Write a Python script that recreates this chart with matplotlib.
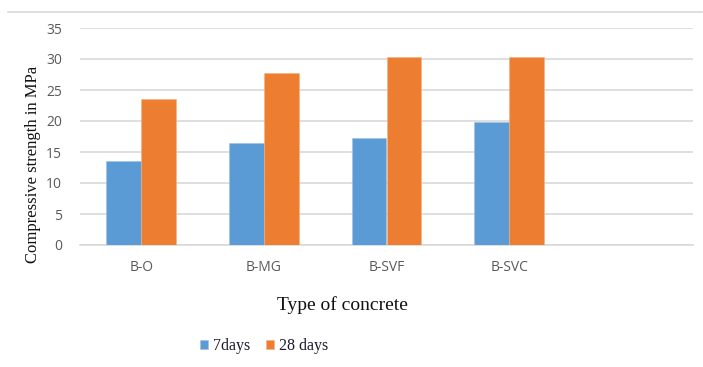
import matplotlib
matplotlib.use("Agg")
import matplotlib.pyplot as plt
import numpy as np
from matplotlib.lines import Line2D

categories = ["B-O", "B-MG", "B-SVF", "B-SVC", ""]
days7 = [13.6, 16.5, 17.3, 19.8, np.nan]
days28 = [23.5, 27.8, 30.3, 30.4, np.nan]
series_names = ["7days", "28 days"]
y_ticks = [0, 5, 10, 15, 20, 25, 30, 35]

blue = "#5B9BD5"
orange = "#ED7D31"
grid_col = "#d9d9d9"
tick_col = "#595959"

fig = plt.figure(figsize=(7.03, 3.67), dpi=100)
ax = fig.add_axes([80 / 703, 1 - 245 / 367, 613 / 703, 217 / 367])

x = np.arange(len(categories))
w = 0.285
b1 = ax.bar(x - w / 2, days7, w, color=blue, edgecolor="#9cc3e6", linewidth=0.4,
            label=series_names[0], zorder=3)
b2 = ax.bar(x + w / 2, days28, w, color=orange, edgecolor="#f4b183", linewidth=0.4,
            label=series_names[1], zorder=3)

ax.set_xlim(-0.5, len(categories) - 0.5)
ax.set_ylim(0, 35)
ax.set_yticks(y_ticks)
ax.set_xticks(x)
ax.set_xticklabels(categories)
ax.yaxis.grid(True, color=grid_col, linewidth=1.2, zorder=0)
ax.set_axisbelow(True)
for s in ["top", "right", "left"]:
    ax.spines[s].set_visible(False)
ax.spines["bottom"].set_color(grid_col)
ax.spines["bottom"].set_linewidth(1.2)
ax.tick_params(axis="both", length=0, colors=tick_col, labelsize=10)
ax.tick_params(axis="y", pad=13)
ax.tick_params(axis="x", pad=11)
for lab in ax.get_xticklabels() + ax.get_yticklabels():
    lab.set_fontfamily("Open Sans")

fig.text(33 / 703, 1 - 164 / 367, "Compressive strength in MPa", rotation=90,
         ha="center", va="center", family="Liberation Serif", fontsize=12,
         color="#111111")
fig.text(342 / 703, 1 - 305 / 367, "Type of concrete", ha="center", va="center",
         family="Liberation Serif", fontsize=14, color="#111111")

leg = fig.legend(handles=[b1, b2], labels=series_names, loc="center",
                 bbox_to_anchor=(264 / 703, 1 - 346 / 367), ncol=2, frameon=False,
                 prop={"family": "Liberation Serif", "size": 11.5},
                 handlelength=0.5, handleheight=0.5, handletextpad=0.3,
                 columnspacing=1.0)
for t in leg.get_texts():
    t.set_color("#1a1a2e")

# thin frame line above the chart
fig.add_artist(Line2D([8 / 703, 702 / 703], [1 - 12 / 367, 1 - 12 / 367],
                      transform=fig.transFigure, color=grid_col, linewidth=1.2))

fig.savefig("out.png", dpi=100, facecolor="white")
